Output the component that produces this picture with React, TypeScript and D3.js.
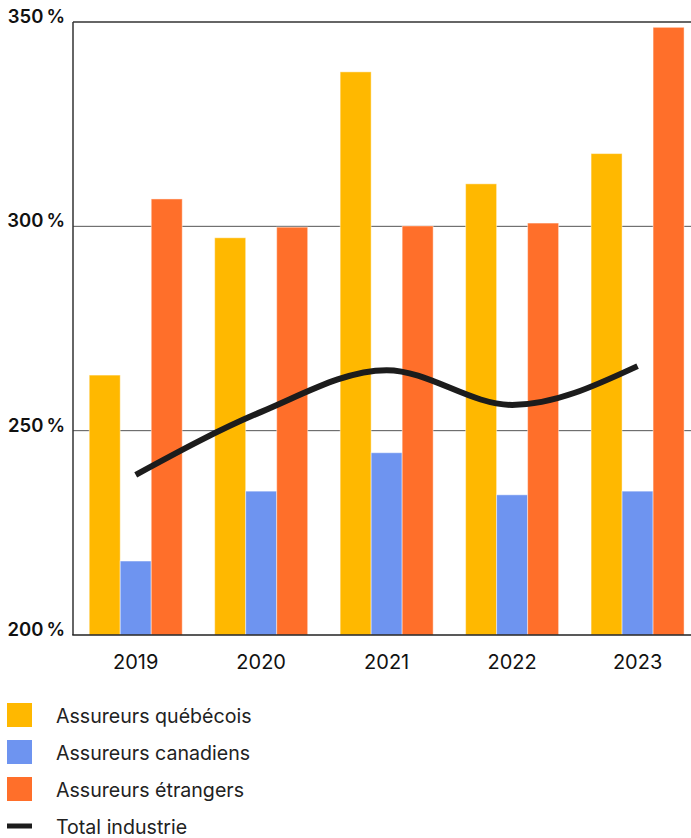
import React from "react";
import * as d3 from "d3";

const years = ["2019", "2020", "2021", "2022", "2023"];
const quebecois = [263.6, 297.2, 337.8, 310.4, 317.8];
const canadiens = [218.1, 235.2, 244.6, 234.3, 235.2];
const etrangers = [306.7, 299.8, 300.1, 300.8, 348.7];
const totalIndustrie = [239.2, 254.6, 264.8, 256.3, 265.8];
const yTicks = [200, 250, 300, 350];
const seriesNames = ["Assureurs québécois", "Assureurs canadiens", "Assureurs étrangers"];
const lineName = "Total industrie";
const colors = ["#FFB800", "#6E94F0", "#FF6F2A"];

const W = 691;
const H = 838;
const FONT = "Inter, 'Noto Sans', sans-serif";

export default function App() {
  const y = d3.scaleLinear().domain([200, 350]).range([635, 22]);
  const x = d3
    .scaleBand<string>()
    .domain(years)
    .range([73, 700.3])
    .paddingInner(0.2587)
    .paddingOuter(0.1293);
  const xs = d3
    .scaleBand<string>()
    .domain(seriesNames)
    .range([0, x.bandwidth()]);
  const seriesValues = [quebecois, canadiens, etrangers];
  const center = (yr: string) => (x(yr) as number) + x.bandwidth() / 2;

  const line = d3
    .line<number>()
    .x((_, i) => center(years[i]))
    .y((d) => y(d))
    .curve(d3.curveMonotoneX);

  const legendTop = 703;
  const legendStep = 37;

  return (
    <svg
      width={W}
      height={H}
      style={{ position: "absolute", left: 0, top: 0 }}
      fontFamily={FONT}
    >
      <rect width={W} height={H} fill="#fff" />
      {/* gridlines */}
      {yTicks.map((t) =>
        t === 200 ? null : (
          <line
            key={t}
            x1={73}
            x2={W}
            y1={y(t)}
            y2={y(t)}
            stroke={t === 350 ? "#333" : "#555"}
            strokeWidth={t === 350 ? 1.5 : 1}
          />
        )
      )}
      {/* bars */}
      {years.map((yr, i) => (
        <g key={yr} transform={`translate(${x(yr)},0)`}>
          {seriesNames.map((s, j) => {
            const v = seriesValues[j][i];
            return (
              <rect
                key={s}
                x={xs(s)}
                y={y(v)}
                width={xs.bandwidth()}
                height={y(200) - y(v)}
                fill={colors[j]}
                stroke="rgba(255,255,255,0.45)"
                strokeWidth={1}
              />
            );
          })}
        </g>
      ))}
      {/* axes */}
      <line x1={73} x2={73} y1={y(350)} y2={y(200)} stroke="#333" strokeWidth={1.5} />
      <line x1={72.25} x2={W} y1={y(200)} y2={y(200)} stroke="#222" strokeWidth={1.5} />
      {/* total line */}
      <path
        d={line(totalIndustrie) || ""}
        fill="none"
        stroke="#1c1c1c"
        strokeWidth={6}
      />
      {/* y tick labels */}
      {yTicks.map((t) => (
        <text
          key={t}
          x={65}
          y={y(t) + 1}
          textAnchor="end"
          fontSize={18.5}
          fontWeight={600}
          fill="#111"
        >
          {`${t}\u202F%`}
        </text>
      ))}
      {/* x labels */}
      {years.map((yr) => (
        <text
          key={yr}
          x={center(yr)}
          y={669}
          textAnchor="middle"
          fontSize={20}
          fill="#111"
        >
          {yr}
        </text>
      ))}
      {/* legend */}
      {seriesNames.map((s, j) => (
        <g key={s} transform={`translate(0,${legendTop + j * legendStep})`}>
          <rect x={7} y={0} width={25} height={24} fill={colors[j]} />
          <text x={56} y={20} fontSize={19.6} fill="#222">
            {s}
          </text>
        </g>
      ))}
      <g transform={`translate(0,${legendTop + 3 * legendStep})`}>
        <rect x={7} y={9.5} width={25} height={5} fill="#1c1c1c" />
        <text x={56} y={20} fontSize={19.6} fill="#222">
          {lineName}
        </text>
      </g>
    </svg>
  );
}
